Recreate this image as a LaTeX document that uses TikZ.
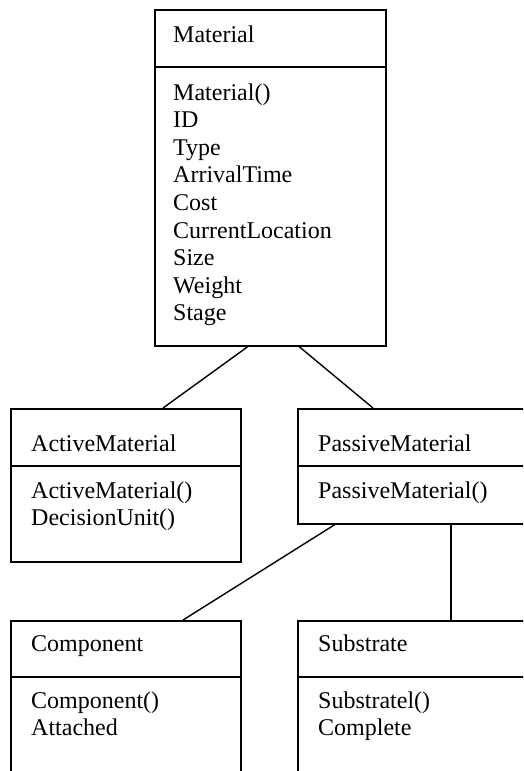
\documentclass[tikz,border=0pt]{standalone}
\usepackage{fontspec}
\setmainfont{Liberation Serif}
\begin{document}
\begin{tikzpicture}[x=1pt,y=-1pt,
  box/.style={draw, line width=1.5pt, rectangle, inner sep=0pt, anchor=north west},
  divider/.style={line width=1.5pt},
  lbl/.style={anchor=base west, inner sep=0pt, font=\fontsize{24}{27.6}\selectfont},
  link/.style={line width=1.4pt}]
\useasboundingbox (0,0) rectangle (523,771);
\fill[white] (0,0) rectangle (523,771);
\clip (0,0) rectangle (523,771);

% boxes
\node[box, minimum width=231pt, minimum height=336pt] (mat) at (154,9) {};
\node[box, minimum width=230pt, minimum height=153pt] (act) at (10,408) {};
\node[box, minimum width=240pt, minimum height=115pt] (pas) at (297,408) {};
\node[box, minimum width=230pt, minimum height=170pt] (com) at (10,620) {};
\node[box, minimum width=240pt, minimum height=170pt] (sub) at (297,620) {};

% dividers
\draw[divider] ([yshift=-58pt]mat.north west) -- ([yshift=-58pt]mat.north east);
\draw[divider] ([yshift=-58pt]act.north west) -- ([yshift=-58pt]act.north east);
\draw[divider] ([yshift=-58pt]pas.north west) -- ([yshift=-58pt]pas.north east);
\draw[divider] ([yshift=-57pt]com.north west) -- ([yshift=-57pt]com.north east);
\draw[divider] ([yshift=-57pt]sub.north west) -- ([yshift=-57pt]sub.north east);

% connectors
\draw[link] ([xshift=94pt]mat.south west) -- ([xshift=153pt]act.north west);
\draw[link] ([xshift=145pt]mat.south west) -- ([xshift=76pt]pas.north west);
\draw[link] ([xshift=38pt]pas.south west) -- ([xshift=173pt]com.north west);
\draw[link] ([xshift=154pt]pas.south west) -- ([xshift=154pt]sub.north west);

% texts
\node[lbl] (matT) at (173,42) {Material};
\foreach \t [count=\i] in {Material(),ID,Type,ArrivalTime,Cost,CurrentLocation,Size,Weight,Stage}
  \node[lbl] (matL\i) at (173,{100+27.6*(\i-1)}) {\t};

\node[lbl] (actT) at (31,451) {ActiveMaterial};
\node[lbl] (actL1) at (31,498) {ActiveMaterial()};
\node[lbl] (actL2) at (31,525.6) {DecisionUnit()};

\node[lbl] (pasT) at (318,451) {PassiveMaterial};
\node[lbl] (pasL1) at (318,498) {PassiveMaterial()};

\node[lbl] (comT) at (31,651) {Component};
\node[lbl] (comL1) at (31,708) {Component()};
\node[lbl] (comL2) at (31,735.6) {Attached};

\node[lbl] (subT) at (318,651) {Substrate};
\node[lbl] (subL1) at (318,708) {Substratel()};
\node[lbl] (subL2) at (318,735.6) {Complete};
\end{tikzpicture}
\end{document}
